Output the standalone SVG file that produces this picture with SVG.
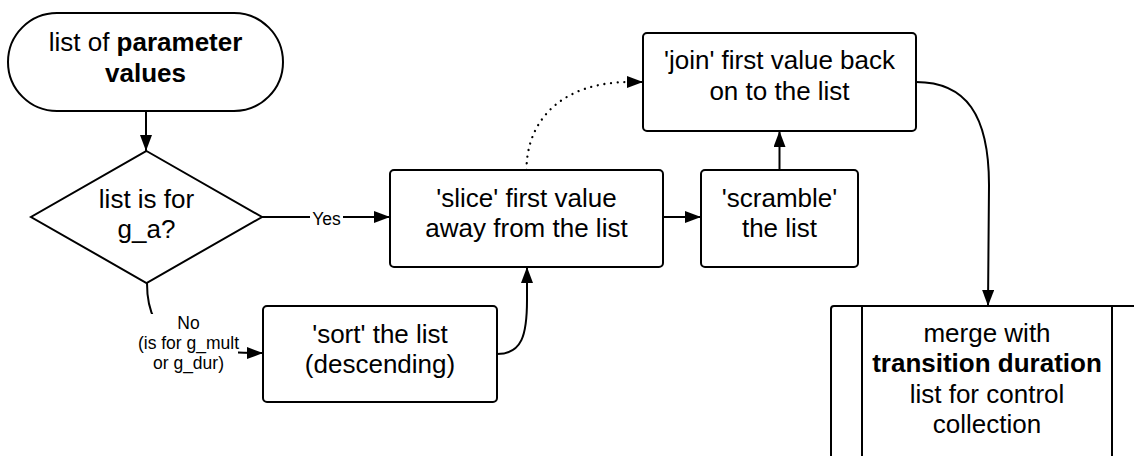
<svg xmlns="http://www.w3.org/2000/svg" width="1134" height="456" viewBox="0 0 1134 456">
  <style>
    .shape { fill: #ffffff; stroke: #000000; stroke-width: 2; }
    .line { fill: none; stroke: #000000; stroke-width: 2; }
    .dotted { fill: none; stroke: #000000; stroke-width: 2.3; stroke-dasharray: 0.01 6.7; stroke-linecap: round; }
    .t { font-family: "Liberation Sans", Arial, sans-serif; font-size: 26px; fill: #000000; text-anchor: middle; }
    .lbl { font-family: "Liberation Sans", Arial, sans-serif; font-size: 17.5px; fill: #000000; text-anchor: middle; }
    .b { font-weight: bold; }
  </style>
  <defs>
    <marker id="arrow" markerUnits="userSpaceOnUse" markerWidth="17" markerHeight="13" refX="16" refY="6" orient="auto">
      <path d="M0,0 L16,6 L0,12 Z" fill="#000000"/>
    </marker>
  </defs>
  <rect width="1134" height="456" fill="#ffffff"/>

  <!-- connectors -->
  <g id="connectors">
    <path class="line" d="M146,111 L146,151" marker-end="url(#arrow)"/>
    <path class="line" d="M262,217 L390,217" marker-end="url(#arrow)"/>
    <path class="line" d="M147,283 C147,345 190,353 263,353" marker-end="url(#arrow)"/>
    <path class="line" d="M497,354 C522,354 527,335 527,300 L527,267" marker-end="url(#arrow)"/>
    <path class="line" d="M663,217 L701,217" marker-end="url(#arrow)"/>
    <path class="line" d="M779.5,170 L779.5,131" marker-end="url(#arrow)"/>
    <path class="dotted" d="M526.5,170 C526.5,120 562,82 630,82"/>
    <path class="line" d="M630,82 L643,82" stroke-width="0" marker-end="url(#arrow)"/>
    <path class="line" d="M916,82 C966,82 989,115 989,185 L988,306" marker-end="url(#arrow)"/>
    <!-- edge labels -->
    <rect x="310" y="209" width="33" height="19" fill="#ffffff"/>
    <text class="lbl" x="326.5" y="225">Yes</text>
    <rect x="136" y="314" width="102" height="60" fill="#ffffff"/>
    <text class="lbl" x="188.5" y="328.5">No</text>
    <text class="lbl" x="188.5" y="349">(is for g_mult</text>
    <text class="lbl" x="188.5" y="369">or g_dur)</text>
  </g>

  <g id="start">
    <rect class="shape" x="8" y="13" width="275" height="98" rx="49" ry="49"/>
    <text class="t" x="145.5" y="51">list of <tspan class="b">parameter</tspan></text>
    <text class="t b" x="145.5" y="82">values</text>
  </g>

  <g id="decision">
    <path class="shape" d="M146.5,151 L262,217 L146.5,283 L31,217 Z"/>
    <text class="t" x="146.5" y="207.5">list is for</text>
    <text class="t" x="146.5" y="238">g_a?</text>
  </g>

  <g id="slice">
    <rect class="shape" x="390" y="170" width="273" height="97" rx="4"/>
    <text class="t" x="526.5" y="206.5">'slice' first value</text>
    <text class="t" x="526.5" y="237">away from the list</text>
  </g>

  <g id="sort">
    <rect class="shape" x="263" y="306" width="234" height="96" rx="4"/>
    <text class="t" x="380" y="342.5">'sort' the list</text>
    <text class="t" x="380" y="373">(descending)</text>
  </g>

  <g id="scramble">
    <rect class="shape" x="701" y="170" width="157" height="97" rx="4"/>
    <text class="t" x="779.5" y="206.5">'scramble'</text>
    <text class="t" x="779.5" y="237">the list</text>
  </g>

  <g id="join">
    <rect class="shape" x="643" y="33" width="273" height="98" rx="4"/>
    <text class="t" x="779.5" y="69">'join' first value back</text>
    <text class="t" x="779.5" y="100">on to the list</text>
  </g>

  <g id="merge">
    <rect class="shape" x="831" y="306" width="312" height="200" rx="3"/>
    <path class="line" d="M862,306 L862,460 M1112,306 L1112,460"/>
    <text class="t" x="987" y="341.5">merge with</text>
    <text class="t b" x="987" y="372">transition duration</text>
    <text class="t" x="987" y="402.5">list for control</text>
    <text class="t" x="987" y="433">collection</text>
  </g>
</svg>
